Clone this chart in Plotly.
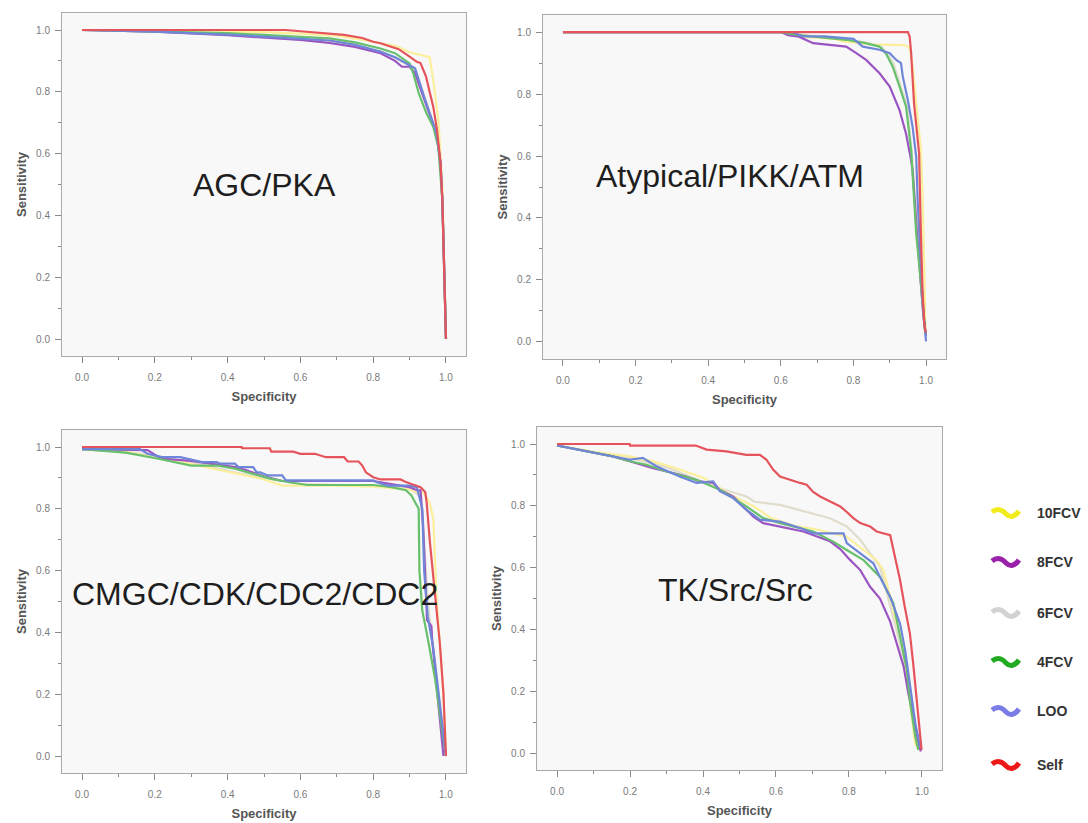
import plotly.graph_objects as go

SERIES = ["10FCV", "8FCV", "6FCV", "4FCV", "LOO", "Self"]
PANEL_TITLES = ["AGC/PKA", "Atypical/PIKK/ATM", "CMGC/CDK/CDC2/CDC2", "TK/Src/Src"]
TICK_VALUES = [0.0, 0.2, 0.4, 0.6, 0.8, 1.0]

# ---------- Panel 1: AGC/PKA ----------
AGC_10FCV_X = [0, 0.3, 0.5, 0.6, 0.7, 0.8, 0.865, 0.9, 0.93, 0.955, 0.965, 0.979, 0.99, 0.995, 1.0]
AGC_10FCV_Y = [1, 0.997, 0.993, 0.988, 0.982, 0.962, 0.947, 0.928, 0.918, 0.912, 0.838, 0.709, 0.5, 0.25, 0.0]
AGC_8FCV_X = [0, 0.2, 0.4, 0.6, 0.68, 0.75, 0.82, 0.86, 0.879, 0.9, 0.915, 0.94, 0.955, 0.974, 0.985, 0.99, 0.995, 1.0]
AGC_8FCV_Y = [1, 0.995, 0.983, 0.968, 0.958, 0.945, 0.925, 0.9, 0.881, 0.881, 0.86, 0.78, 0.73, 0.664, 0.57, 0.45, 0.23, 0.0]
AGC_6FCV_X = [0, 0.2, 0.4, 0.6, 0.68, 0.75, 0.82, 0.86, 0.9, 0.915, 0.94, 0.955, 0.974, 0.985, 0.99, 0.995, 1.0]
AGC_6FCV_Y = [1, 0.995, 0.984, 0.97, 0.962, 0.95, 0.928, 0.91, 0.885, 0.872, 0.79, 0.735, 0.668, 0.57, 0.45, 0.23, 0.0]
AGC_4FCV_X = [0, 0.2, 0.4, 0.6, 0.68, 0.75, 0.82, 0.86, 0.9, 0.91, 0.925, 0.946, 0.965, 0.979, 0.99, 0.995, 1.0]
AGC_4FCV_Y = [1, 0.996, 0.99, 0.978, 0.973, 0.96, 0.94, 0.925, 0.892, 0.86, 0.796, 0.731, 0.687, 0.62, 0.45, 0.23, 0.0]
AGC_LOO_X = [0, 0.2, 0.4, 0.6, 0.68, 0.75, 0.82, 0.86, 0.9, 0.915, 0.94, 0.955, 0.974, 0.985, 0.99, 0.995, 1.0]
AGC_LOO_Y = [1, 0.995, 0.985, 0.972, 0.966, 0.952, 0.93, 0.912, 0.887, 0.876, 0.784, 0.731, 0.666, 0.57, 0.45, 0.23, 0.0]
AGC_SELF_X = [0, 0.3, 0.56, 0.6, 0.68, 0.72, 0.77, 0.8, 0.82, 0.85, 0.87, 0.9, 0.92, 0.93, 0.945, 0.955, 0.965, 0.975, 0.985, 0.99, 0.995, 1.0]
AGC_SELF_Y = [1, 1, 1.0, 0.996, 0.989, 0.984, 0.974, 0.962, 0.957, 0.946, 0.938, 0.914, 0.897, 0.893, 0.85, 0.8, 0.752, 0.68, 0.57, 0.45, 0.233, 0.0]

# ---------- Panel 2: Atypical/PIKK/ATM ----------
ATM_10FCV_X = [0, 0.63, 0.65, 0.75, 0.77, 0.85, 0.94, 0.955, 0.963, 0.973, 0.986, 0.991, 0.995, 0.999]
ATM_10FCV_Y = [1, 1, 0.985, 0.978, 0.97, 0.96, 0.958, 0.95, 0.89, 0.78, 0.62, 0.45, 0.2, 0.03]
ATM_8FCV_X = [0, 0.6, 0.62, 0.65, 0.689, 0.734, 0.78, 0.808, 0.835, 0.872, 0.9, 0.927, 0.945, 0.959, 0.963, 0.975, 0.985, 0.993, 1.0]
ATM_8FCV_Y = [1, 1, 0.99, 0.985, 0.964, 0.959, 0.953, 0.932, 0.91, 0.867, 0.824, 0.748, 0.672, 0.586, 0.553, 0.35, 0.2, 0.08, 0.02]
ATM_6FCV_X = [0, 0.62, 0.66, 0.76, 0.84, 0.88, 0.91, 0.93, 0.948, 0.96, 0.97, 0.98, 0.99, 0.998]
ATM_6FCV_Y = [1, 1, 0.99, 0.98, 0.965, 0.95, 0.9, 0.83, 0.76, 0.62, 0.45, 0.28, 0.13, 0.03]
ATM_4FCV_X = [0, 0.6, 0.65, 0.75, 0.78, 0.83, 0.872, 0.89, 0.908, 0.927, 0.945, 0.959, 0.968, 0.973, 0.982, 0.991, 0.998]
ATM_4FCV_Y = [1, 1, 0.99, 0.98, 0.975, 0.965, 0.953, 0.93, 0.889, 0.824, 0.759, 0.618, 0.456, 0.348, 0.24, 0.13, 0.024]
ATM_LOO_X = [0, 0.63, 0.66, 0.72, 0.8, 0.826, 0.872, 0.9, 0.918, 0.931, 0.936, 0.95, 0.963, 0.973, 0.977, 0.984, 0.991, 1.0]
ATM_LOO_Y = [1, 1, 0.986, 0.986, 0.978, 0.953, 0.943, 0.932, 0.91, 0.9, 0.856, 0.78, 0.694, 0.597, 0.456, 0.294, 0.13, 0.002]
ATM_SELF_X = [0, 0.95, 0.955, 0.959, 0.967, 0.975, 0.981, 0.985, 0.99, 0.995, 0.999]
ATM_SELF_Y = [1, 1, 0.985, 0.932, 0.77, 0.68, 0.608, 0.39, 0.175, 0.06, 0.03]

# ---------- Panel 3: CMGC/CDK/CDC2/CDC2 ----------
CDC_10FCV_X = [0, 0.12, 0.2, 0.3, 0.4, 0.5, 0.55, 0.6, 0.7, 0.8, 0.9, 0.94, 0.955, 0.965, 0.974, 0.983, 0.993, 1.0]
CDC_10FCV_Y = [0.993, 0.985, 0.965, 0.945, 0.92, 0.895, 0.875, 0.875, 0.875, 0.872, 0.862, 0.85, 0.82, 0.77, 0.52, 0.366, 0.2, 0.0]
CDC_8FCV_X = [0, 0.18, 0.2, 0.22, 0.3, 0.35, 0.42, 0.45, 0.5, 0.55, 0.8, 0.85, 0.9, 0.92, 0.93, 0.937, 0.942, 0.948, 0.96, 0.962, 0.993]
CDC_8FCV_Y = [0.993, 0.99, 0.975, 0.962, 0.955, 0.946, 0.935, 0.925, 0.905, 0.89, 0.89, 0.88, 0.87, 0.86, 0.86, 0.75, 0.6, 0.44, 0.42, 0.376, 0.0]
CDC_6FCV_X = [0, 0.15, 0.3, 0.45, 0.6, 0.8, 0.9, 0.93, 0.94, 0.95, 0.97, 0.99, 1.0]
CDC_6FCV_Y = [0.993, 0.98, 0.95, 0.91, 0.88, 0.875, 0.865, 0.84, 0.7, 0.5, 0.3, 0.1, 0.0]
CDC_4FCV_X = [0, 0.12, 0.21, 0.27, 0.3, 0.37, 0.42, 0.47, 0.52, 0.57, 0.62, 0.8, 0.85, 0.89, 0.905, 0.915, 0.925, 0.927, 0.935, 0.95, 0.97, 0.99, 1.0]
CDC_4FCV_Y = [0.993, 0.982, 0.962, 0.946, 0.94, 0.94, 0.93, 0.913, 0.897, 0.886, 0.877, 0.877, 0.87, 0.86, 0.843, 0.821, 0.8, 0.6, 0.47, 0.38, 0.25, 0.08, 0.0]
CDC_LOO_X = [0, 0.159, 0.18, 0.22, 0.27, 0.29, 0.33, 0.37, 0.38, 0.42, 0.43, 0.47, 0.48, 0.49, 0.51, 0.55, 0.56, 0.8, 0.81, 0.84, 0.9, 0.92, 0.935, 0.94, 0.95, 0.965, 0.98, 0.995, 1.0]
CDC_LOO_Y = [0.993, 0.993, 0.978, 0.967, 0.967, 0.962, 0.951, 0.951, 0.946, 0.946, 0.935, 0.935, 0.918, 0.918, 0.908, 0.908, 0.892, 0.892, 0.886, 0.875, 0.875, 0.87, 0.8, 0.6, 0.45, 0.35, 0.2, 0.03, 0.0]
CDC_SELF_X = [0, 0.439, 0.44, 0.516, 0.52, 0.58, 0.6, 0.64, 0.67, 0.72, 0.73, 0.76, 0.77, 0.78, 0.8, 0.82, 0.875, 0.885, 0.903, 0.93, 0.943, 0.947, 0.956, 0.965, 0.974, 0.983, 0.993, 1.0]
CDC_SELF_Y = [1, 1, 0.996, 0.996, 0.985, 0.985, 0.978, 0.978, 0.967, 0.967, 0.953, 0.953, 0.94, 0.918, 0.902, 0.895, 0.895, 0.889, 0.881, 0.87, 0.854, 0.82, 0.69, 0.582, 0.474, 0.366, 0.203, 0.0]

# ---------- Panel 4: TK/Src/Src ----------
SRC_10FCV_X = [0, 0.1, 0.2, 0.266, 0.33, 0.404, 0.467, 0.541, 0.587, 0.65, 0.706, 0.794, 0.84, 0.876, 0.895, 0.912, 0.931, 0.949, 0.972, 0.981, 0.995]
SRC_10FCV_Y = [0.995, 0.975, 0.96, 0.943, 0.92, 0.889, 0.841, 0.797, 0.76, 0.735, 0.725, 0.7, 0.657, 0.624, 0.59, 0.506, 0.42, 0.344, 0.129, 0.03, 0.01]
SRC_8FCV_X = [0, 0.061, 0.153, 0.199, 0.263, 0.318, 0.354, 0.391, 0.428, 0.446, 0.483, 0.51, 0.538, 0.565, 0.611, 0.675, 0.748, 0.776, 0.803, 0.831, 0.858, 0.885, 0.913, 0.936, 0.95, 0.963, 0.977, 0.991, 0.997]
SRC_8FCV_Y = [0.995, 0.982, 0.96, 0.944, 0.922, 0.906, 0.895, 0.879, 0.874, 0.852, 0.83, 0.798, 0.765, 0.744, 0.733, 0.717, 0.685, 0.66, 0.625, 0.592, 0.538, 0.5, 0.425, 0.332, 0.279, 0.192, 0.117, 0.03, 0.005]
SRC_6FCV_X = [0, 0.1, 0.2, 0.3, 0.428, 0.519, 0.541, 0.611, 0.702, 0.748, 0.794, 0.831, 0.858, 0.885, 0.904, 0.93, 0.95, 0.97, 0.985, 0.998]
SRC_6FCV_Y = [0.995, 0.975, 0.955, 0.925, 0.863, 0.83, 0.813, 0.803, 0.776, 0.76, 0.733, 0.69, 0.646, 0.603, 0.516, 0.4, 0.3, 0.16, 0.06, 0.01]
SRC_4FCV_X = [0, 0.107, 0.153, 0.199, 0.245, 0.3, 0.382, 0.446, 0.519, 0.565, 0.611, 0.702, 0.757, 0.794, 0.84, 0.885, 0.922, 0.94, 0.959, 0.968, 0.982, 0.99]
SRC_4FCV_Y = [0.995, 0.971, 0.96, 0.944, 0.933, 0.911, 0.884, 0.852, 0.798, 0.76, 0.744, 0.717, 0.684, 0.657, 0.624, 0.57, 0.484, 0.376, 0.268, 0.16, 0.052, 0.01]
SRC_LOO_X = [0, 0.107, 0.199, 0.235, 0.272, 0.336, 0.382, 0.428, 0.446, 0.483, 0.519, 0.556, 0.611, 0.666, 0.702, 0.785, 0.794, 0.831, 0.867, 0.885, 0.913, 0.94, 0.954, 0.968, 0.982, 0.995]
SRC_LOO_Y = [0.995, 0.971, 0.949, 0.955, 0.928, 0.895, 0.874, 0.879, 0.847, 0.825, 0.787, 0.755, 0.749, 0.728, 0.711, 0.711, 0.679, 0.646, 0.614, 0.57, 0.505, 0.419, 0.332, 0.214, 0.095, 0.02]
SRC_SELF_X = [0, 0.199, 0.2, 0.38, 0.41, 0.464, 0.519, 0.556, 0.574, 0.592, 0.611, 0.638, 0.666, 0.684, 0.702, 0.721, 0.748, 0.776, 0.794, 0.812, 0.831, 0.858, 0.876, 0.899, 0.913, 0.926, 0.94, 0.953, 0.967, 0.976, 0.985, 0.995, 0.999]
SRC_SELF_Y = [1, 1, 0.995, 0.995, 0.982, 0.976, 0.965, 0.965, 0.949, 0.917, 0.895, 0.884, 0.874, 0.868, 0.845, 0.83, 0.814, 0.798, 0.78, 0.76, 0.744, 0.733, 0.717, 0.711, 0.705, 0.635, 0.56, 0.473, 0.387, 0.29, 0.182, 0.074, 0.01]

PANELS = [
    {"10FCV": (AGC_10FCV_X, AGC_10FCV_Y), "8FCV": (AGC_8FCV_X, AGC_8FCV_Y), "6FCV": (AGC_6FCV_X, AGC_6FCV_Y),
     "4FCV": (AGC_4FCV_X, AGC_4FCV_Y), "LOO": (AGC_LOO_X, AGC_LOO_Y), "Self": (AGC_SELF_X, AGC_SELF_Y)},
    {"10FCV": (ATM_10FCV_X, ATM_10FCV_Y), "8FCV": (ATM_8FCV_X, ATM_8FCV_Y), "6FCV": (ATM_6FCV_X, ATM_6FCV_Y),
     "4FCV": (ATM_4FCV_X, ATM_4FCV_Y), "LOO": (ATM_LOO_X, ATM_LOO_Y), "Self": (ATM_SELF_X, ATM_SELF_Y)},
    {"10FCV": (CDC_10FCV_X, CDC_10FCV_Y), "8FCV": (CDC_8FCV_X, CDC_8FCV_Y), "6FCV": (CDC_6FCV_X, CDC_6FCV_Y),
     "4FCV": (CDC_4FCV_X, CDC_4FCV_Y), "LOO": (CDC_LOO_X, CDC_LOO_Y), "Self": (CDC_SELF_X, CDC_SELF_Y)},
    {"10FCV": (SRC_10FCV_X, SRC_10FCV_Y), "8FCV": (SRC_8FCV_X, SRC_8FCV_Y), "6FCV": (SRC_6FCV_X, SRC_6FCV_Y),
     "4FCV": (SRC_4FCV_X, SRC_4FCV_Y), "LOO": (SRC_LOO_X, SRC_LOO_Y), "Self": (SRC_SELF_X, SRC_SELF_Y)},
]

# styling
LINE_COLORS = {"10FCV": "#fbef9c", "8FCV": "#9b55c2", "6FCV": "#e0ddcd",
               "4FCV": "#68c06c", "LOO": "#6f86d8", "Self": "#e5535b"}
LEGEND_COLORS = {"10FCV": "#f2ec1c", "8FCV": "#9a22aa", "6FCV": "#d2d2d2",
                 "4FCV": "#22aa22", "LOO": "#7c7ce6", "Self": "#ee1818"}
DRAW_ORDER = ["6FCV", "10FCV", "8FCV", "4FCV", "LOO", "Self"]

W, H = 1088, 823
# frames in pixels: (left, right, top, bottom)
FRAMES = [(62, 466, 13, 356), (543, 946, 15, 359), (62, 466, 430, 773), (537, 942, 427, 770)]
LABEL_POS = [(0.5, 0.5), (0.46, 0.534), (0.475, 0.523), (0.49, 0.527)]
RANGE = [-0.055, 1.055]
FONT = "Liberation Sans, Arial, sans-serif"

fig = go.Figure()
layout = dict(width=W, height=H, margin=dict(l=0, r=0, t=0, b=0),
              paper_bgcolor="white", plot_bgcolor="#f8f8f8", showlegend=False,
              font=dict(family=FONT))

annotations = []
shapes = []
for i, (panel, frame) in enumerate(zip(PANELS, FRAMES)):
    n = "" if i == 0 else str(i + 1)
    l, r, t, b = frame
    xd = [l / W, r / W]
    yd = [1 - b / H, 1 - t / H]
    common = dict(range=RANGE, showgrid=False, zeroline=False, showline=True, mirror=True,
                  linecolor="#a9a9a9", linewidth=1, ticks="outside", ticklen=6, tickwidth=1,
                  tickcolor="#8a8a8a", tickmode="array", tickvals=TICK_VALUES,
                  ticktext=[f"{v:.1f}" for v in TICK_VALUES],
                  tickfont=dict(size=10, color="#7a7a7a", family=FONT),
                  minor=dict(tickmode="array", tickvals=[0.1, 0.3, 0.5, 0.7, 0.9], ticks="outside",
                             ticklen=3, tickcolor="#8a8a8a", showgrid=False),
                  automargin=False, fixedrange=True)
    layout["xaxis" + n] = dict(common, domain=xd, anchor="y" + n, ticklabelstandoff=6,
                               title=dict(text="<b>Specificity</b>", standoff=9,
                                          font=dict(size=13, color="#555555", family=FONT)))
    layout["yaxis" + n] = dict(common, domain=yd, anchor="x" + n, ticklabelstandoff=3,
                               title=dict(text="<b>Sensitivity</b>", standoff=6,
                                          font=dict(size=13, color="#555555", family=FONT)))
    for s in DRAW_ORDER:
        xs, ys = panel[s]
        fig.add_trace(go.Scatter(x=xs, y=ys, mode="lines", name=s, xaxis="x" + n, yaxis="y" + n,
                                 line=dict(color=LINE_COLORS[s], width=2.2), hoverinfo="skip"))
    lx, ly = LABEL_POS[i]
    annotations.append(dict(text=PANEL_TITLES[i], x=lx, y=ly, xref="x" + n, yref="y" + n,
                            showarrow=False, xanchor="center", yanchor="middle",
                            font=dict(size=32, color="#1e1e1e", family=FONT)))

# custom legend with wavy symbols
LEG_Y = [513, 562, 613, 662, 711, 765]
for s, yc in zip(SERIES, LEG_Y):
    pts = [(992, yc - 1), (997, yc - 5), (1002, yc - 4), (1006, yc + 1), (1010, yc + 5),
           (1015, yc + 4), (1019, yc - 2)]
    def P(p):
        return f"{p[0] / W:.5f},{1 - p[1] / H:.5f}"
    path = "M " + P(pts[0]) + " C " + P(pts[1]) + " " + P(pts[2]) + " " + P(pts[3]) + \
           " C " + P(pts[4]) + " " + P(pts[5]) + " " + P(pts[6])
    shapes.append(dict(type="path", path=path, xref="paper", yref="paper",
                       line=dict(color=LEGEND_COLORS[s], width=5)))
    annotations.append(dict(text=f"<b>{s}</b>", x=1035 / W, y=1 - yc / H, xref="paper", yref="paper",
                            showarrow=False, xanchor="left", yanchor="middle",
                            font=dict(size=14, color="#333333", family=FONT)))

layout["annotations"] = annotations
layout["shapes"] = shapes
fig.update_layout(**layout)
fig.write_html("out.html", config={"displayModeBar": False},
               post_script="document.body.style.margin='0';document.body.style.overflow='hidden';")
